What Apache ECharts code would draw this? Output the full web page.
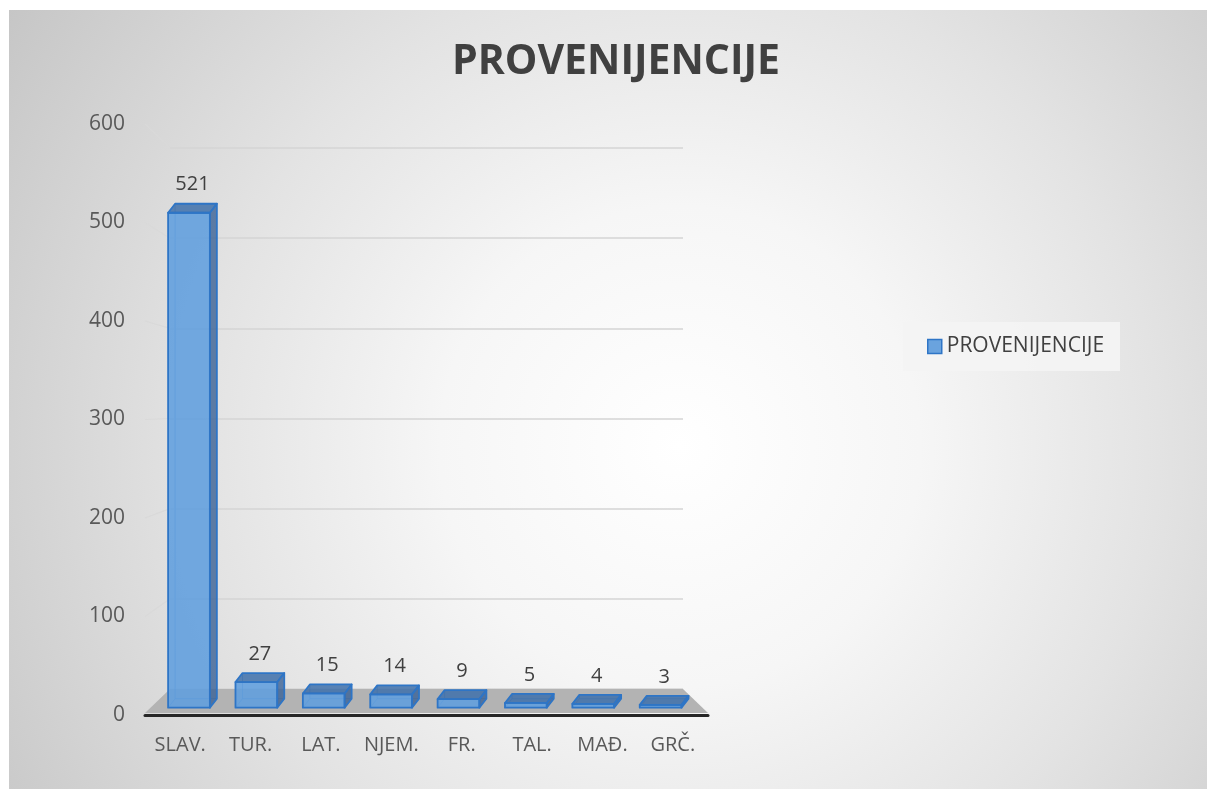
<!DOCTYPE html>
<html>
<head>
<meta charset="utf-8">
<script src="https://cdn.jsdelivr.net/npm/echarts@6/dist/echarts.min.js"></script>
<style>
html,body{margin:0;padding:0;background:#ffffff;width:1207px;height:789px;overflow:hidden;}
#c{position:absolute;left:9px;top:10px;width:1198px;height:779px;
background:radial-gradient(circle farthest-corner at 56% 56%, #ffffff 0%, #f6f6f6 30%, #e3e3e3 60%, #c6c6c6 100%);}
</style>
</head>
<body>
<div id="c"></div>
<script>
// ---- data ----
const chartTitle = 'PROVENIJENCIJE';
const seriesName = 'PROVENIJENCIJE';
const categories = ['SLAV.', 'TUR.', 'LAT.', 'NJEM.', 'FR.', 'TAL.', 'MAĐ.', 'GRČ.'];
const values = [521, 27, 15, 14, 9, 5, 4, 3];
const yMin = 0, yMax = 600, yStep = 100;

// ---- style ----
const FONT = "'Open Sans', 'Noto Sans', sans-serif";
const TXT = '#595959';
const EDGE = '#2e75c6';
const DX = 7, DY = -9;

const chart = echarts.init(document.getElementById('c'), null, {renderer: 'canvas'});

function renderBox(params, api) {
  const i = api.value(0), v = api.value(1);
  const base = api.coord([i, 0]);
  const top = api.coord([i, v]);
  const w = api.size([1, 0])[0] * 0.62;
  const x0 = base[0] - w / 2, x1 = base[0] + w / 2, yb = base[1], yt = top[1];
  const children = [
    {type: 'polyline', shape: {points: [[x0 + DX, yt + DY], [x0 + DX, yb + DY], [x1 + DX, yb + DY]]},
      style: {stroke: 'rgba(46,117,198,0.55)', lineWidth: 1, fill: null}},
    {type: 'polyline', shape: {points: [[x0, yb], [x0 + DX, yb + DY]]},
      style: {stroke: 'rgba(46,117,198,0.55)', lineWidth: 1, fill: null}},
    {type: 'polygon', shape: {points: [[x0, yb], [x1, yb], [x1, yt], [x0, yt]]},
      style: {fill: 'rgba(96,158,222,0.88)', stroke: EDGE, lineWidth: 1.8, lineJoin: 'round'}},
    {type: 'polygon', shape: {points: [[x1, yb], [x1 + DX, yb + DY], [x1 + DX, yt + DY], [x1, yt]]},
      style: {fill: 'rgba(62,100,150,0.82)', stroke: EDGE, lineWidth: 1.8, lineJoin: 'round'}},
    {type: 'polygon', shape: {points: [[x0, yt], [x1, yt], [x1 + DX, yt + DY], [x0 + DX, yt + DY]]},
      style: {fill: 'rgba(62,112,170,0.85)', stroke: EDGE, lineWidth: 1.8, lineJoin: 'round'}},
    {type: 'text', x: base[0] + DX / 2, y: yt + DY - 19,
      style: {text: String(v), fill: '#404040', font: '20px ' + FONT, align: 'center', verticalAlign: 'middle'}}
  ];
  return {type: 'group', children: children};
}

const option = {
  animation: false,
  title: {
    text: chartTitle, left: 443, top: 32, padding: 0,
    textStyle: {fontFamily: FONT, fontWeight: 'bold', fontSize: 41, color: '#404040'}
  },
  legend: {
    left: 894, top: 312, orient: 'vertical',
    padding: [14, 16, 14, 24], backgroundColor: 'rgba(244,244,244,0.9)',
    itemWidth: 14, itemHeight: 14, itemGap: 5,
    textStyle: {fontFamily: FONT, fontSize: 21, color: '#404040'},
    data: [{name: seriesName, icon: 'rect', itemStyle: {color: '#6aa3de', borderColor: EDGE, borderWidth: 1.5}}]
  },
  grid: [
    // front plane: labels + axis line
    {left: 136, width: 563, top: 114, bottom: 74},
    // back wall: gridlines
    {left: 161, width: 513, top: 138, bottom: 100},
    // bars
    {left: 146.3, width: 539, top: 127.7, bottom: 81.3}
  ],
  xAxis: [
    {gridIndex: 0, type: 'category', data: categories,
      axisLine: {show: true, lineStyle: {color: '#262626', width: 3}},
      axisTick: {show: false},
      axisLabel: {interval: 0, fontFamily: FONT, fontSize: 20, color: TXT, margin: 20}},
    {gridIndex: 1, type: 'category', data: categories, show: false},
    {gridIndex: 2, type: 'category', data: categories, show: false}
  ],
  yAxis: [
    {gridIndex: 0, type: 'value', min: yMin, max: yMax, interval: yStep,
      axisLine: {show: false}, axisTick: {show: false}, splitLine: {show: false},
      axisLabel: {fontFamily: FONT, fontSize: 21, color: TXT, margin: 20}},
    {gridIndex: 1, type: 'value', min: yMin, max: yMax, interval: yStep,
      axisLine: {show: false}, axisTick: {show: false}, axisLabel: {show: false},
      splitLine: {show: true, lineStyle: {color: '#d4d4d4', width: 1.6}}},
    {gridIndex: 2, type: 'value', min: yMin, max: yMax, interval: yStep, show: false}
  ],
  series: [{
    name: seriesName, type: 'custom', xAxisIndex: 2, yAxisIndex: 2,
    renderItem: renderBox,
    itemStyle: {color: '#6aa3de', borderColor: EDGE},
    encode: {x: 0, y: 1},
    data: values.map((v, i) => [i, v]),
    z: 5
  }]
};
chart.setOption(option);

// floor + side-wall lines derived from the axes' own scales
function bandEdges(axisIdx) {
  const a = chart.convertToPixel({xAxisIndex: axisIdx}, 0);
  const b = chart.convertToPixel({xAxisIndex: axisIdx}, 1);
  const n = chart.convertToPixel({xAxisIndex: axisIdx}, categories.length - 1);
  const band = b - a;
  return [a - band / 2, n + band / 2];
}
const fr = bandEdges(0), bk = bandEdges(1);
const frY0 = chart.convertToPixel({yAxisIndex: 0}, 0);
const bkY0 = chart.convertToPixel({yAxisIndex: 1}, 0);
const graphics = [{
  type: 'polygon', silent: true, z: 1,
  shape: {points: [[fr[0], frY0 - 2], [fr[1], frY0 - 2], [bk[1], bkY0], [bk[0], bkY0]]},
  style: {fill: '#b3b3b3'}
}];
for (let v = yMin + yStep; v <= yMax; v += yStep) {
  graphics.push({
    type: 'line', silent: true, z: 1,
    shape: {x1: fr[0], y1: chart.convertToPixel({yAxisIndex: 0}, v), x2: bk[0], y2: chart.convertToPixel({yAxisIndex: 1}, v)},
    style: {stroke: '#d9d9d9', lineWidth: 1.2}
  });
}
chart.setOption({graphic: graphics});
</script>
</body>
</html>
